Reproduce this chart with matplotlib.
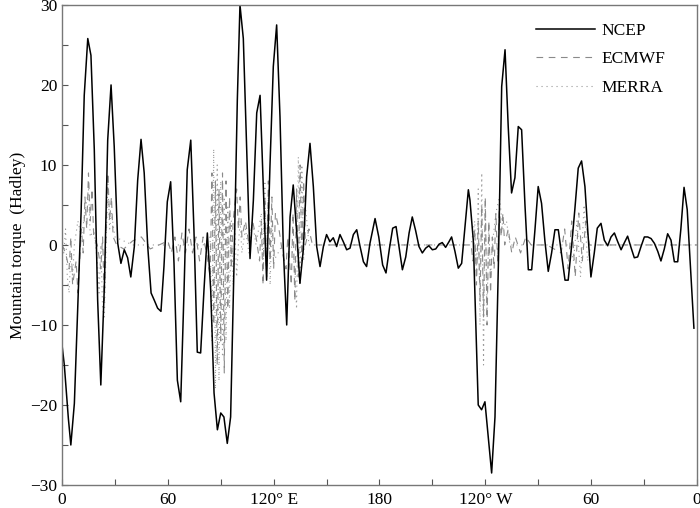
import matplotlib.pyplot as plt
from matplotlib.ticker import MultipleLocator

plt.rcParams['font.family'] = ['Liberation Serif', 'DejaVu Serif']
plt.rcParams['font.size'] = 12.5

# NCEP mountain torque, vertices (longitude 0-360)
ncep_lon = [0, 1.3, 3.6, 5, 7, 8.9, 10.8, 12.6, 14.6, 16.4, 18.3, 20.2, 22, 24, 25.9, 27.8, 29.6,
            31.6, 33.4, 35.3, 37.2, 39, 41, 42.9, 44.8, 46.6, 48.6, 50.5, 52.3, 54.2, 56.1,
            57.8, 59.7, 61.6, 63.5, 65.4, 67.3, 69.2, 71, 73, 74.8, 76.7, 78.6, 80.5, 82.4,
            84.3, 86.2, 88.1, 90, 91.8, 93.7, 95.6, 97.5, 99.4, 100.9, 102.8, 104.7, 106.6,
            108.5, 110.4, 112.3, 114.1, 116, 117.9, 119.8, 121.7, 123.6, 125.5, 127.4, 129.3,
            131.1, 133.1, 134.9, 136.8, 138.7, 140.6, 142.5, 144.4, 146.3, 148.2, 150, 151.9,
            153.8, 155.7, 157.6, 159.5, 161.4, 163.3, 165.2, 167.1, 169, 170.9, 172.7, 174.6,
            177.5, 179.6, 181.8, 183.7, 185.6, 187.5, 189.4, 191.2, 193, 194.9, 196.8, 198.6,
            200.5, 202.4, 204.3, 206.2, 208, 210, 211.9, 213.8, 215.6, 217.5, 219.4, 220.9,
            222.8, 224.7, 226.6, 228.5, 230.4, 231.3, 233.2, 236, 237.9, 239.8, 241.7, 243.6,
            245.5, 247.4, 249.3, 251.2, 253, 254.9, 256.8, 258.7, 260.6, 262.5, 264.4, 266.3,
            268.2, 270, 271.9, 273.8, 275.7, 277.6, 279.5, 281.4, 283.3, 285.2, 287, 289,
            290.8, 292.7, 294.6, 296.5, 298.2, 299.9, 301.8, 303.5, 305.6, 307.5, 309.4,
            311.3, 313.2, 315.1, 317, 318.9, 320.7, 322.6, 324.5, 326.4, 328.3, 330.2, 332.1,
            334, 335.9, 337.8, 339.6, 341.5, 343.4, 345.3, 347.2, 349.1, 350.9, 352.7, 354.5,
            356.4, 358.3]
ncep_val = [-12.5, -15, -21.7, -25, -19.8, -8, 4, 18.7, 25.8, 23.7, 11.9, -6.9, -17.5, -5.2,
            13.1, 20, 12.3, 0.2, -2.3, -0.6, -1.6, -4, -0.2, 8.1, 13.2, 9, -0.2, -6, -6.9,
            -7.9, -8.3, -2.7, 5.4, 7.9, -2.3, -16.9, -19.6, -5.6, 9.4, 13.1, 1.9, -13.4,
            -13.5, -5.6, 1.5, -5.6, -18.5, -23.1, -21, -21.5, -24.8, -21.5, -2.7, 18.1, 30,
            25.8, 11.9, -1.7, 5.6, 16.5, 18.7, 7.3, -4.4, 9.8, 22.3, 27.5, 16, -0.6, -10, 3.5,
            7.5, 1.5, -4.8, -0.6, 8.5, 12.7, 7.3, -0.2, -2.7, -0.2, 1.3, 0.4, 0.9, -0.2, 1.3,
            0.4, -0.6, -0.4, 1.3, 1.9, -0.2, -2.1, -2.7, 0.2, 3.3, 1.0, -2.5, -3.5, -0.5, 2.1,
            2.3, -0.4, -3.1, -1.5, 1.5, 3.5, 1.8, -0.2, -1, -0.4, -0.1, -0.6, -0.5, 0.1, 0.3,
            -0.3, 0.4, 1, -0.8, -2.9, -2.3, 2.3, 6.9, 5.6, 0.6, -20, -20.6, -19.6, -24, -28.5,
            -21.5, -2.7, 19.8, 24.4, 14.8, 6.5, 8.4, 14.8, 14.4, 5, -3.1, -3.1, 2, 7.3, 5.2,
            0.5, -3.3, -1, 1.9, 1.9, -1.2, -4.4, -4.4, 0, 4.5, 9.6, 10.5, 7.3, 1.5, -4, -1,
            2.1, 2.7, 0.6, -0.1, 1, 1.5, 0.4, -0.6, 0.3, 1.1, -0.3, -1.6, -1.5, -0.2, 1, 1,
            0.8, 0.2, -0.8, -2, -0.5, 1.4, 0.6, -2.1, -2.1, 2, 7.2, 4.4, -3, -10.4]

# ECMWF, high-frequency bursts, otherwise near zero
ecmwf_lon = [0, 2, 4, 5, 6, 8, 9, 11, 12, 13, 14, 15, 16, 17, 18, 20, 22, 23, 24, 25, 26, 27,
             28, 29, 31, 35, 40, 45, 50, 55, 60, 62, 64, 66, 68, 70, 72, 74, 76, 78, 80, 82,
             84, 85, 86, 87, 88, 89, 90, 91, 92, 93, 94, 95, 96, 97, 99, 100, 101, 102, 104,
             106, 108, 110, 112, 113, 114, 115, 116, 117, 118, 119, 120, 121, 123, 125, 127,
             128, 130, 131, 132, 133, 134, 135, 136, 137, 138, 140, 142, 150, 170, 190, 210,
             230, 232, 233, 234, 235, 236, 237, 238, 239, 240, 241, 242, 243, 244, 245, 246,
             247, 248, 249, 250, 251, 253, 255, 257, 260, 263, 266, 275, 283, 285, 287, 289,
             291, 293, 295, 297, 299, 310, 330, 360]
ecmwf_val = [0, -1, -3, 1, -5, -2, -6, 2, -1, 6, 2, 9, 3, 7, 1, 0, -3, 1, -7, 2, 9, 3, 6, 1,
             0, -0.5, 0.5, 1, -0.5, 0, 0.5, -1, 1, -2, 1.5, -1, 2, -1, 1, -2, 1, -1, -4, 9,
             -10, 8, -15, 7, -12, 9, -16, 8, -8, 6, -3, 3, 7, 2, 6, 1, 3, 0, 3, 1, -2, 3, -5,
             6, -4, 8, -2, 6, -3, 4, 2, -1, -3, 1, -5, 4, -7, 7, -4, 10, -2, 8, 0, 2, 0, 0, 0,
             0, 0, 0, 0, -2, 2, -5, 3, -7, 5, -9, 6, -10, 3, -6, 1, -3, 4, -2, 5, 1, 4, 0, 2,
             -1, 1, -1, 1, 0, 0, -1, 2, -3, 3, -4, 4, -2, 3, 0, 0, 0, 0]

# MERRA
merra_lon = [0, 1, 2, 3, 4, 5, 6, 7, 9, 11, 13, 15, 16, 18, 20, 21, 22, 23, 24, 25, 26, 27,
             28, 30, 40, 60, 80, 84, 85, 86, 87, 88, 89, 90, 91, 92, 93, 94, 95, 96, 97, 98,
             99, 100, 101, 102, 104, 106, 108, 110, 113, 114, 115, 116, 117, 118, 119, 120,
             125, 130, 132, 133, 134, 135, 136, 137, 138, 140, 160, 200, 232, 234, 235, 236,
             237, 238, 239, 240, 241, 242, 243, 244, 246, 248, 250, 252, 254, 270, 288, 290,
             292, 294, 296, 298, 300, 330, 360]
merra_val = [1, -1, 2, -4, -6, -1, -4, 0, 3, 1, 4, 7, 1, 2, -2, -6, 0, -8, -9, 0, 8, 2, 4, 1,
             0, 0, 0, 1, -12, 12, -18, 10, -17, 8, -14, 6, -12, 5, -8, 3, -5, 2, -4, 0, 3, -1,
             2, -1, 3, 0, 4, -3, 8, -4, 6, -5, 3, -2, 0, 0, -3, -8, 11, -5, 10, -2, 5, 0, 0, 0,
             0, 3, -4, 7, -10, 9, -15, 5, -8, 2, -4, 0, 4, 6, 2, 3, 0, 0, 0, -2, 3, -4, 5, -2,
             0, 0, 0]

xticks = [0, 60, 120, 180, 240, 300, 360]
xlabels = ['0', '60', '120° E', '180', '120° W', '60', '0']

fig = plt.figure(figsize=(7, 5.08), dpi=100)
ax = fig.add_axes([0.0886, 0.0453, 0.907, 0.945])

ax.plot(merra_lon, merra_val, color='#999999', lw=0.8, ls=(0, (1, 3.5)), label='MERRA')
ax.plot(ecmwf_lon, ecmwf_val, color='#8a8a8a', lw=0.8, ls=(0, (6, 5)), label='ECMWF')
ax.plot(ncep_lon, ncep_val, color='black', lw=1.1, label='NCEP')

ax.set_xlim(0, 360)
ax.set_ylim(-30, 30)
ax.set_xticks(xticks)
ax.set_xticklabels(xlabels)
ax.xaxis.set_minor_locator(MultipleLocator(30))
ax.yaxis.set_major_locator(MultipleLocator(10))
ax.yaxis.set_minor_locator(MultipleLocator(5))
ax.tick_params(which='both', direction='in', length=4, width=0.8, color='#555555')
ax.tick_params(axis='x', pad=5)
ax.set_ylabel('Mountain torque  (Hadley)', labelpad=3)
for s in ax.spines.values():
    s.set_color('#777777')
    s.set_linewidth(1.0)

h, l = ax.get_legend_handles_labels()
ax.legend(h[::-1], l[::-1], loc='upper right', frameon=False, handlelength=3.4,
          handletextpad=0.4, labelspacing=0.7, bbox_to_anchor=(0.975, 0.995))

plt.savefig('out.png')
